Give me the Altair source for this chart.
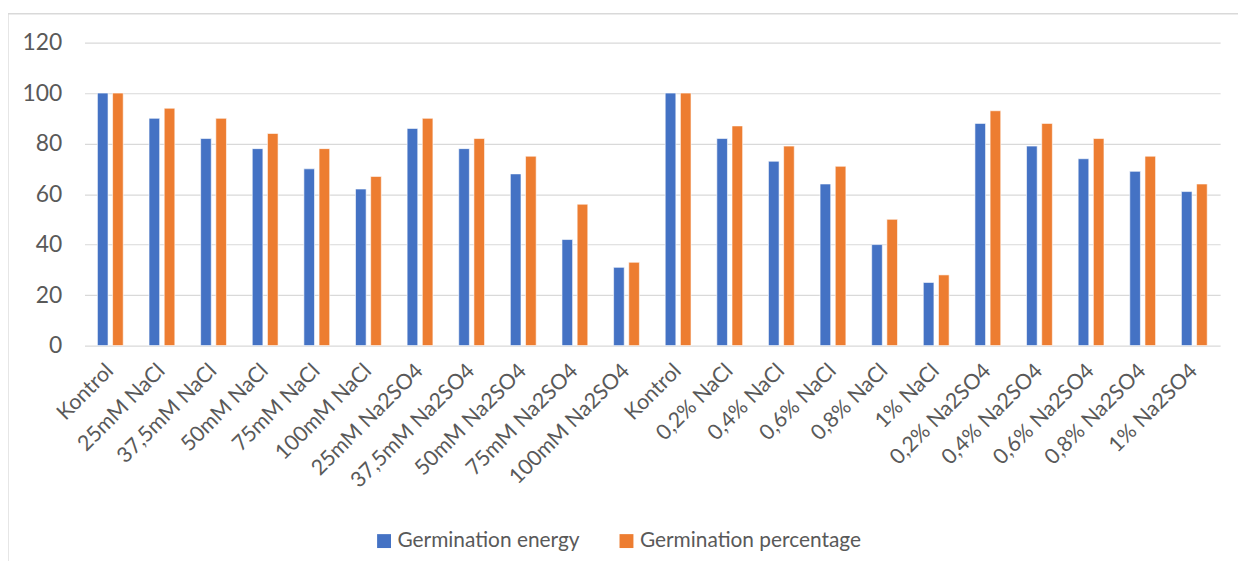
import altair as alt
import pandas as pd
import json

categories = ["Kontrol", "25mM NaCl", "37,5mM NaCl", "50mM NaCl", "75mM NaCl", "100mM NaCl",
              "25mM Na2SO4", "37,5mM Na2SO4", "50mM Na2SO4", "75mM Na2SO4", "100mM Na2SO4",
              "Kontrol", "0,2% NaCl", "0,4% NaCl", "0,6% NaCl", "0,8% NaCl", "1% NaCl",
              "0,2% Na2SO4", "0,4% Na2SO4", "0,6% Na2SO4", "0,8% Na2SO4", "1% Na2SO4"]
energy = [100, 90, 82, 78, 70, 62, 86, 78, 68, 42, 31, 100, 82, 73, 64, 40, 25, 88, 79, 74, 69, 61]
percentage = [100, 94, 90, 84, 78, 67, 90, 82, 75, 56, 33, 100, 87, 79, 71, 50, 28, 93, 88, 82, 75, 64]
series = ["Germination energy", "Germination percentage"]
colors = ["#4472C4", "#ED7D31"]

rows = []
for i, c in enumerate(categories):
    rows.append({"idx": i, "series": series[0], "value": energy[i]})
    rows.append({"idx": i, "series": series[1], "value": percentage[i]})
df = pd.DataFrame(rows)

label_expr = json.dumps(categories) + "[datum.value]"
FONT = "Lato"
GRAY = "#595959"

W, H = 1143, 305

bars = alt.Chart(df).mark_bar(stroke="white", strokeWidth=0.6).encode(
    x=alt.X("idx:O",
            scale=alt.Scale(paddingInner=0.5, paddingOuter=0.25),
            axis=alt.Axis(title=None, labelExpr=label_expr, labelAngle=-45,
                          labelAlign="right", labelBaseline="middle",
                          labelPadding=22, ticks=False, domain=False,
                          labelFont=FONT, labelFontSize=21.5, labelColor=GRAY,
                          labelLimit=400)),
    xOffset=alt.XOffset("series:N", scale=alt.Scale(paddingInner=0.3)),
    y=alt.Y("value:Q", scale=alt.Scale(domain=[0, 120]),
            axis=alt.Axis(title=None, values=[0, 20, 40, 60, 80, 100, 120],
                          ticks=False, domain=False, gridColor="#d9d9d9",
                          gridWidth=1.2, labelPadding=23, labelFont=FONT,
                          labelFontSize=23, labelColor=GRAY)),
    color=alt.Color("series:N",
                    scale=alt.Scale(domain=series, range=colors),
                    legend=alt.Legend(title=None, orient="none", legendX=291,
                                      legendY=491, direction="horizontal",
                                      symbolType="square", symbolSize=196,
                                      symbolStrokeWidth=0, labelFont=FONT,
                                      labelFontSize=21, labelColor=GRAY,
                                      labelLimit=500,
                                      columnPadding=36, labelOffset=3)),
)

frame = alt.Chart(pd.DataFrame({"a": [0]})).mark_rect(
    fill=None, stroke="#d9d9d9", strokeWidth=1.3
).encode(
    x=alt.value(-77), x2=alt.value(W + 60),
    y=alt.value(-29), y2=alt.value(H + 260),
)

chart = alt.layer(frame, bars).properties(
    width=W, height=H,
    autosize=alt.AutoSizeParams(type="none"),
    padding={"left": 77, "top": 33, "right": 18, "bottom": 215},
).configure_view(stroke=None)

chart.save("out.html", embed_options={"renderer": "svg", "actions": False})
